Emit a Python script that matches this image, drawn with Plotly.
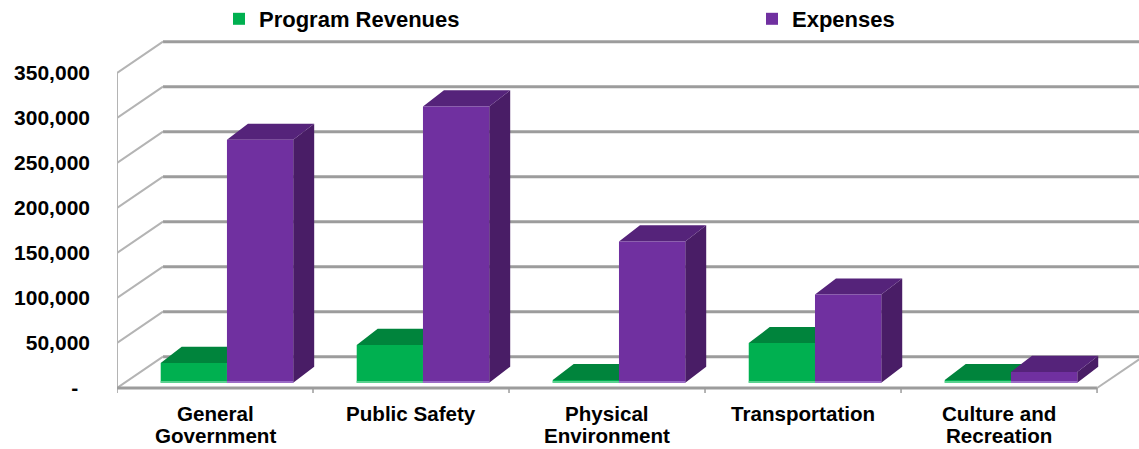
import plotly.graph_objects as go

# ---------------- data ----------------
categories = ["General<br>Government", "Public Safety", "Physical<br>Environment",
              "Transportation", "Culture and<br>Recreation"]
revenues = [22000, 42000, 3000, 44000, 3000]
expenses = [270000, 307000, 157000, 98000, 12000]
series_names = ["Program Revenues", "Expenses"]
y_ticks = [0, 50000, 100000, 150000, 200000, 250000, 300000, 350000]
y_ticktext = ["-\u00a0\u00a0" if v == 0 else f"{v:,}" for v in y_ticks]

# ---------------- styling / geometry constants ----------------
FONT = "Liberation Sans, Arial, sans-serif"
W, H = 1139, 449
ML, MT, MB = 117, 30, 51
PW = W - ML
X0, X1 = -0.5, 4.714           # x range (category units)
Y0, Y1 = -11111, 397778         # y range (value units)
WALL_DX, WALL_DY = 0.2347, 34800   # oblique depth of floor / walls
BAR_DX0, BAR_DY0 = -0.277, 5900    # front plane of bars
BAR_W = 0.338
BAR_DX, BAR_DY = 0.107, 17800      # bar depth
GRID = "#9c9c9c"
WALLC = "#b4b4b4"

colors = {
    "Program Revenues": dict(front="#00B050", top="#00843C", side="#006a30", low="#5ad18f"),
    "Expenses": dict(front="#7030A0", top="#55237A", side="#491D66", low="#9b6cc6"),
}
legend_text_px = {"Program Revenues": 260, "Expenses": 793}

fig = go.Figure()

def seg_trace(xs, ys, color, width):
    fig.add_trace(go.Scatter(x=xs, y=ys, mode="lines", line=dict(color=color, width=width),
                             hoverinfo="skip", showlegend=False))

# back wall gridlines
gx, gy = [], []
for v in y_ticks:
    gx += [X0 + WALL_DX, X1 + 0.1, None]
    gy += [v + WALL_DY, v + WALL_DY, None]
seg_trace(gx, gy, GRID, 3)

# left wall slanted gridlines
lx, ly = [], []
for v in y_ticks:
    lx += [X0 - 0.012, X0, X0 + WALL_DX, None]
    ly += [v, v, v + WALL_DY, None]
seg_trace(lx, ly, WALLC, 2)
seg_trace([X0, X0], [0, y_ticks[-1]], WALLC, 2)

# floor: front edge, right edge, tick marks between categories
n = len(categories)
seg_trace([X0, X0 + n], [0, 0], GRID, 3)
seg_trace([X0 + n, X0 + n + WALL_DX], [0, WALL_DY], WALLC, 2)
tx, ty = [], []
for i in range(n + 1):
    tx += [X0 + i, X0 + i, None]
    ty += [0, -5500, None]
seg_trace(tx, ty, GRID, 1.5)

# bars (painter's order: revenues then expenses)
for k, (name, vals) in enumerate(zip(series_names, [revenues, expenses])):
    c = colors[name]
    fx, fy, sx, sy, ttx, tty, bx, by = [], [], [], [], [], [], [], []
    for i, v in enumerate(vals):
        xl = i + BAR_DX0 + k * BAR_W
        xr = xl + BAR_W
        b = BAR_DY0
        t = BAR_DY0 + v
        sx += [xr, xr, xr + BAR_DX, xr + BAR_DX, xr, None]
        sy += [b, t, t + BAR_DY, b + BAR_DY, b, None]
        ttx += [xl, xr, xr + BAR_DX, xl + BAR_DX, xl, None]
        tty += [t, t, t + BAR_DY, t + BAR_DY, t, None]
        fx += [xl, xr, xr, xl, xl, None]
        fy += [b, b, t, t, b, None]
        bx += [xl, xr, None]
        by += [b + 700, b + 700, None]
    for xs, ys, col in [(sx, sy, c["side"]), (ttx, tty, c["top"]), (fx, fy, c["front"])]:
        fig.add_trace(go.Scatter(x=xs, y=ys, mode="lines", fill="toself", fillcolor=col,
                                 line=dict(width=0, color=col), hoverinfo="skip",
                                 showlegend=False))
    seg_trace(bx, by, c["low"], 2)

# legend entries (one legend each, to place them apart)
legend_ids = ["legend", "legend2"]
for name, lid in zip(series_names, legend_ids):
    fig.add_trace(go.Scatter(x=[None], y=[None], mode="markers", name=name, legend=lid,
                             marker=dict(symbol="square", size=12, color=colors[name]["front"])))

legend_common = dict(orientation="h", xanchor="left", y=(H - 19) / H, yanchor="middle",
                     yref="container",
                     font=dict(family=FONT, size=22, color="#000000", weight=700),
                     bgcolor="rgba(0,0,0,0)")
layout_legends = {}
for name, lid in zip(series_names, legend_ids):
    layout_legends[lid] = dict(legend_common, x=(legend_text_px[name] - 41 - ML) / PW)

# category labels (each line as its own annotation)
for i, lab in enumerate(categories):
    for j, line in enumerate(lab.split("<br>")):
        fig.add_annotation(x=i, y=0, xref="x", yref="paper", text=line, showarrow=False,
                           xanchor="center", yanchor="middle", yshift=-15.5 - 21.5 * j,
                           font=dict(family=FONT, size=20.6, color="#000000", weight=700))

fig.update_layout(
    width=W, height=H,
    margin=dict(l=ML, r=0, t=MT, b=MB, autoexpand=False),
    paper_bgcolor="white", plot_bgcolor="white",
    showlegend=True,
    **layout_legends,
    xaxis=dict(range=[X0, X1], showgrid=False, zeroline=False, showticklabels=False,
               showline=False, fixedrange=True),
    yaxis=dict(range=[Y0, Y1], showgrid=False, zeroline=False, tickvals=y_ticks,
               ticktext=y_ticktext, ticks="", ticklabelstandoff=26,
               tickfont=dict(family=FONT, size=21, color="#000000", weight=700),
               showline=False, fixedrange=True),
)

fig.write_html("out.html")
